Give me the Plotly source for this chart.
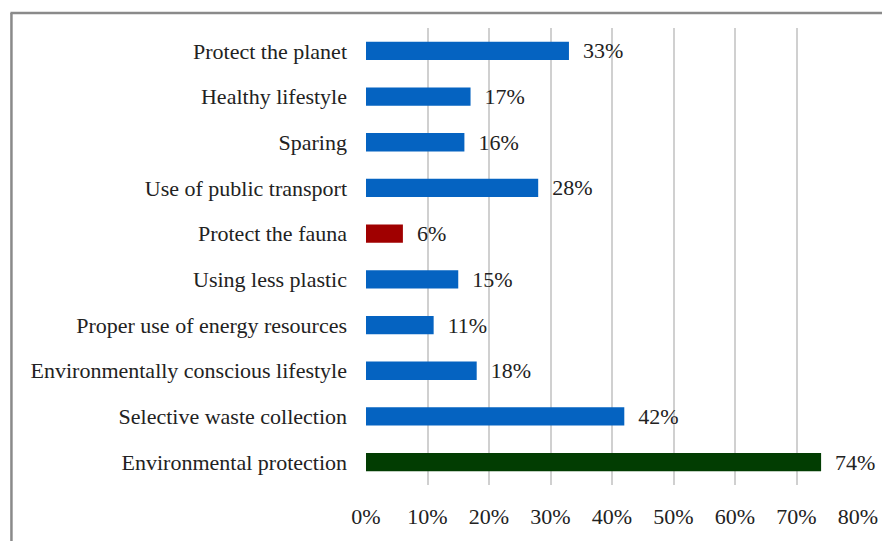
import plotly.graph_objects as go

categories = [
    "Environmental protection",
    "Selective waste collection",
    "Environmentally conscious lifestyle",
    "Proper use of energy resources",
    "Using less plastic",
    "Protect the fauna",
    "Use of public transport",
    "Sparing",
    "Healthy lifestyle",
    "Protect the planet",
]
values = [0.74, 0.42, 0.18, 0.11, 0.15, 0.06, 0.28, 0.16, 0.17, 0.33]
bar_colors = ["#023D02", "#0563C1", "#0563C1", "#0563C1", "#0563C1",
              "#A00000", "#0563C1", "#0563C1", "#0563C1", "#0563C1"]
x_ticks = [0, 0.1, 0.2, 0.3, 0.4, 0.5, 0.6, 0.7, 0.8]

FONT = "Liberation Serif"
TXT = "#222222"

fig = go.Figure(go.Bar(
    y=categories,
    x=values,
    orientation="h",
    marker=dict(color=bar_colors, line=dict(width=0)),
    width=0.4,
    text=["\u00a0\u00a0" + f"{round(v*100)}%" for v in values],
    textposition="outside",
    constraintext="none",
    textfont=dict(family=FONT, size=22, color=TXT),
    cliponaxis=False,
))

# page has an 8px body margin; figure is sized to fill the rest
W, H = 882, 533
ml, mr, mt, mb = 358, 30, 20, 53
pw, ph = W - ml - mr, H - mt - mb

def px_x(p):
    return (p - ml) / pw

def px_y(p):
    return (H - mb - p) / ph

fig.add_shape(type="line", xref="paper", yref="paper",
              x0=px_x(2), x1=px_x(2), y0=px_y(5), y1=px_y(560),
              line=dict(color="#8a8a8a", width=2.5))
fig.add_shape(type="line", xref="paper", yref="paper",
              x0=px_x(1), x1=px_x(900), y0=px_y(5), y1=px_y(5),
              line=dict(color="#8a8a8a", width=2.5))

fig.update_layout(
    width=W, height=H,
    margin=dict(l=ml, r=mr, t=mt, b=mb),
    paper_bgcolor="white", plot_bgcolor="white",
    showlegend=False,
    font=dict(family=FONT, size=22, color=TXT),
    bargap=0.6,
)
fig.update_xaxes(
    range=[0, 0.8], tickvals=x_ticks, tickformat=".0%",
    showgrid=True, gridcolor="#d0d0d0", gridwidth=2,
    zeroline=False, showline=False, ticks="",
    ticklabelstandoff=16,
    tickfont=dict(family=FONT, size=22, color=TXT),
)
fig.update_yaxes(
    showgrid=False, zeroline=False, showline=False, ticks="",
    ticklabelstandoff=18,
    tickfont=dict(family=FONT, size=22, color=TXT),
)

fig.write_html("out.html")
